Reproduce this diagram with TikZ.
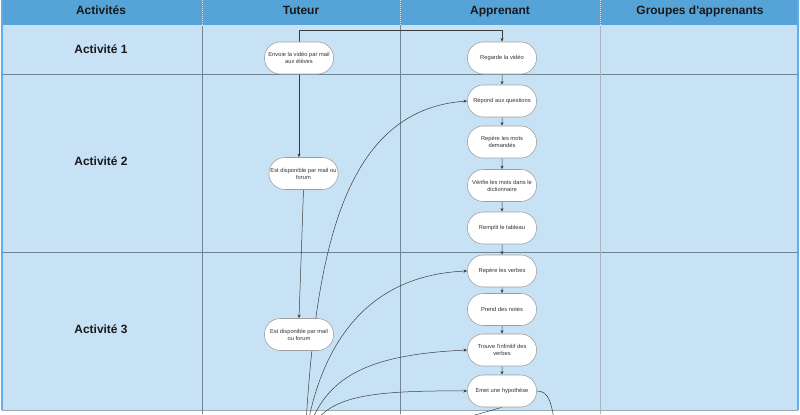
\documentclass[tikz,border=0pt]{standalone}
\usepackage{fontspec}
\setmainfont{Liberation Sans}[Ligatures=TeXOff]
\usepackage{tikz}
\usetikzlibrary{shapes.misc,arrows.meta}

\definecolor{entete}{RGB}{86,163,216}
\definecolor{couloir}{RGB}{199,225,245}
\definecolor{trait}{RGB}{112,132,148}
\definecolor{bord}{RGB}{100,172,232}
\definecolor{fleche}{RGB}{60,60,60}

\pgfdeclarelayer{fond}
\pgfdeclarelayer{liens}
\pgfsetlayers{fond,liens,main}

\tikzset{
  etape/.style={rounded rectangle, draw=gray!75, fill=white, line width=0.4pt,
    minimum width=1.8cm, minimum height=0.8cm, inner sep=1pt, align=center,
    font=\fontsize{4.1}{5}\selectfont, text=black!80},
  titre/.style={font=\fontsize{8.5}{10}\selectfont\bfseries, text=black!90,
    text height=6.3pt, text depth=1.8pt},
  lien/.style={draw=fleche, line width=0.35pt, -{Stealth[length=2.6pt,width=2.2pt]}},
}

\begin{document}
\begin{tikzpicture}[x=0.025cm,y=0.025cm]
		\useasboundingbox (0,0) rectangle (800,-414);
		\clip (0,0) rectangle (800,-414);
		\begin{pgfonlayer}{fond}
		   % couloirs
		   \fill[entete] (2,0) rectangle (798,-25);
		   \fill[couloir] (2,-25) rectangle (798,-410);
		   \draw[trait] (2,-74) -- (798,-74);
		   \draw[trait] (2,-252) -- (798,-252);
		   \draw[trait!70] (2,-410) -- (798,-410);
		   \draw[trait] (202,-25) -- (202,-414);
		   \draw[trait] (400,-25) -- (400,-414);
		   \draw[trait!60] (600,-25) -- (600,-414);
		   \draw[white!70!entete, densely dotted] (202,0) -- (202,-25);
		   \draw[white!70!entete, densely dotted] (400,0) -- (400,-25);
		   \draw[white!70!entete, densely dotted] (600,0) -- (600,-25);
		   \draw[white!70!entete, densely dotted] (202,-25) -- (798,-25);
		   \draw[bord, line width=0.8pt] (2,0) -- (2,-410);
		   \draw[bord, line width=0.8pt] (798,0) -- (798,-410);
		\end{pgfonlayer}

		\node[titre] (hAct) at (101,-11) {Activités};
		\node[titre] (hTut) at (301,-11) {Tuteur};
		\node[titre] (hApp) at (500,-11) {Apprenant};
		\node[titre] (hGrp) at (700,-11) {Groupes d'apprenants};

		\node[titre] (act1) at (101,-50) {Activité 1};
		\node[titre] (act2) at (101,-162) {Activité 2};
		\node[titre] (act3) at (101,-330) {Activité 3};

		\node[etape] (envoie) at (299,-58) {Envoie la vidéo par mail\\aux élèves};
		\node[etape] (dispoA) at (303.5,-173.5) {Est disponible par mail ou\\forum};
		\node[etape] (dispoB) at (299,-334.5) {Est disponible par mail\\ou forum};

		\node[etape] (regarde) at (502,-58) {Regarde la vidéo};
		\node[etape] (repond) at (502,-101) {Répond aux questions};
		\node[etape] (mots) at (502,-142) {Repère les mots\\demandés};
		\node[etape] (verifie) at (502,-185.5) {Vérifie les mots dans le\\dictionnaire};
		\node[etape] (remplit) at (502,-228) {Remplit le tableau};
		\node[etape] (verbes) at (502,-271) {Repère les verbes};
		\node[etape] (notes) at (502,-309.5) {Prend des notes};
		\node[etape] (infinitif) at (502,-350) {Trouve l'infinitif des\\verbes};
		\node[etape] (hypo) at (502,-391) {Emet une hypothèse};

		\coordinate (bas) at (305,-440);
		\coordinate (basD) at (556,-440);
		\coordinate (basG) at (440,-425);

		\begin{pgfonlayer}{liens}
		   \draw[lien] (envoie.north) -- ++(0,11) -| (regarde.north);
		   \draw[lien] (envoie.south) -- (envoie.south |- dispoA.north);
		   \draw[lien] (dispoA.south) -- (dispoB.north);

		   \draw[lien] (regarde) -- (repond);
		   \draw[lien] (repond) -- (mots);
		   \draw[lien] (mots) -- (verifie);
		   \draw[lien] (verifie) -- (remplit);
		   \draw[lien] (remplit) -- (verbes);
		   \draw[lien] (verbes) -- (notes);
		   \draw[lien] (notes) -- (infinitif);
		   \draw[lien] (infinitif) -- (hypo);

		   \draw[lien] (bas) .. controls (315,-260) and (340,-110) .. (repond.west);
		   \draw[lien] (bas) .. controls (320,-340) and (370,-275) .. (verbes.west);
		   \draw[lien] (bas) .. controls (322,-380) and (360,-355) .. (infinitif.west);
		   \draw[lien] (bas) .. controls (322,-400) and (350,-390) .. (hypo.west);
		   \draw[draw=fleche, line width=0.35pt] (hypo.east) .. controls (548,-391) and (553,-400) .. (basD);
		   \draw[draw=fleche, line width=0.35pt] (hypo.south) -- (basG);
		\end{pgfonlayer}
	\end{tikzpicture}
\end{document}
